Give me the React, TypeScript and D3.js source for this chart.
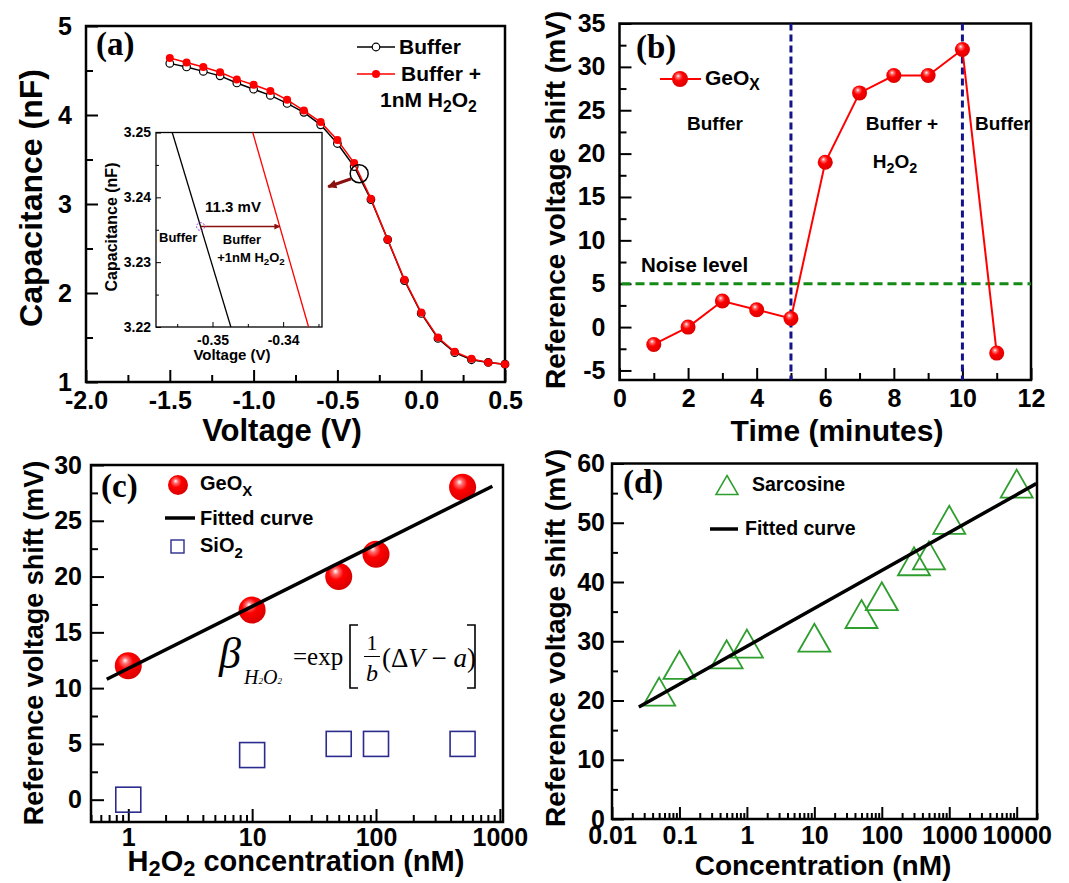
import React from 'react';
import * as d3 from 'd3';

const SANS = "'Liberation Sans', Arial, sans-serif";
const SERIF = "'Liberation Serif', 'Times New Roman', serif";

// (a) C-V curves
const cvVoltage = [-1.5, -1.4, -1.3, -1.2, -1.1, -1.0, -0.9, -0.8, -0.7, -0.6, -0.5, -0.4, -0.3, -0.2, -0.1, 0.0, 0.1, 0.2, 0.3, 0.4, 0.5];
const cvBuffer = [4.58, 4.54, 4.49, 4.44, 4.36, 4.29, 4.22, 4.13, 4.03, 3.89, 3.68, 3.42, 3.05, 2.6, 2.14, 1.77, 1.49, 1.33, 1.25, 1.22, 1.2];
const cvH2O2 = [4.64, 4.59, 4.54, 4.48, 4.4, 4.34, 4.27, 4.17, 4.05, 3.92, 3.72, 3.46, 3.06, 2.6, 2.15, 1.78, 1.5, 1.34, 1.26, 1.22, 1.2];
const zoomSpot = [-0.37, 3.34];

// (a) inset, zoom of the curves
const insetCap = [3.25, 3.22];
const insetVBuffer = [-0.3557, -0.3474];
const insetVH2O2 = [-0.3443, -0.3364];
const insetArrowCap = 3.2355;

// (b) time response
const timeMin = [1, 2, 3, 4, 5, 6, 7, 8, 9, 10, 11];
const shiftTime = [-2, 0, 3, 2, 1, 19, 27, 29, 29, 32, -3];
const switchTimes = [5, 10];
const noiseLevel = 5;

// (c) H2O2 concentration
const h2o2Conc = [1, 10, 50, 100, 500];
const h2o2GeOx = [12, 17, 20, 22, 28];
const h2o2SiO2 = [0, 4, 5, 5, 5];
const h2o2FitConc = [0.67, 870];
const h2o2FitShift = [10.8, 28.1];

// (d) sarcosine
const sarcConc = [0.05, 0.1, 0.5, 1, 10, 50, 100, 300, 500, 1000, 10000];
const sarcShift = [21.5, 26, 27.8, 29.6, 30.6, 34.6, 37.6, 43.5, 44.5, 50.5, 56.6];
const sarcFitConc = [0.025, 19500];
const sarcFitShift = [18.9, 56.6];

type Part = string | { t: string; sub?: boolean };

// text with subscripts; y is the visual centre of capitals
const addText = (g: any, x: number, y: number, parts: Part[], size: number, anchor = 'start', drop = 0.28) => {
  const t = g.append('text')
    .attr('x', x).attr('y', y + size * 0.36)
    .attr('font-size', size).attr('font-family', SANS).attr('font-weight', 'bold')
    .attr('text-anchor', anchor).attr('fill', '#000');
  let down = false;
  parts.forEach((p) => {
    const s = typeof p === 'string' ? { t: p } : p;
    const ts = t.append('tspan').text(s.t);
    if (s.sub) {
      ts.attr('font-size', size * 0.75);
      if (!down) { ts.attr('dy', size * drop); down = true; }
    } else if (down) {
      ts.attr('dy', -size * drop); down = false;
    }
  });
  return t;
};

const yTitle = (g: any, x: number, y: number, label: string, size: number) => {
  g.append('text')
    .attr('transform', `translate(${x},${y}) rotate(-90)`)
    .attr('y', size * 0.36)
    .attr('text-anchor', 'middle')
    .attr('font-family', SANS).attr('font-weight', 'bold').attr('font-size', size)
    .text(label);
};

const panelTag = (g: any, x: number, y: number, label: string) => {
  g.append('text').attr('x', x).attr('y', y)
    .attr('font-family', SERIF).attr('font-weight', 'bold').attr('font-size', 33)
    .text(label);
};

// ticks pointing inwards, on left and bottom only
const axes = (g: any, box: any, x: any, y: any, o: any) => {
  const style = (s: any, size: number) => {
    s.select('.domain').remove();
    s.attr('font-family', SANS).attr('font-size', size).attr('font-weight', 'bold');
    s.selectAll('line').attr('stroke', '#000').attr('stroke-width', o.tickW || 2);
    s.selectAll('text').attr('fill', '#000');
  };
  g.append('g').attr('transform', `translate(${box.l},0)`)
    .call(d3.axisLeft(y).tickValues(o.yMinor).tickSize(-o.minorLen).tickFormat(() => ''))
    .call((s: any) => style(s, o.font));
  g.append('g').attr('transform', `translate(${box.l},0)`)
    .call(d3.axisLeft(y).tickValues(o.yMajor).tickSize(-o.majorLen).tickPadding(o.yPad).tickFormat(o.yFmt))
    .call((s: any) => style(s, o.font));
  g.append('g').attr('transform', `translate(0,${box.b})`)
    .call(d3.axisBottom(x).tickValues(o.xMinor).tickSize(-o.minorLen).tickFormat(() => ''))
    .call((s: any) => style(s, o.font));
  g.append('g').attr('transform', `translate(0,${box.b})`)
    .call(d3.axisBottom(x).tickValues(o.xMajor).tickSize(-o.majorLen).tickPadding(o.xPad).tickFormat(o.xFmt))
    .call((s: any) => style(s, o.font));
  g.append('rect')
    .attr('x', box.l).attr('y', box.t).attr('width', box.r - box.l).attr('height', box.b - box.t)
    .attr('fill', 'none').attr('stroke', '#000').attr('stroke-width', o.frameW || 2.5);
};

const range = (a: number, b: number, s: number) => d3.range(a, b + s / 2, s).map((v) => +v.toFixed(4));
const logMinor = (sc: any) => sc.ticks().filter((v: number) => Math.abs(Math.log10(v) - Math.round(Math.log10(v))) > 1e-6);

class Figure extends React.Component {
  chRef = React.createRef<SVGSVGElement>();

  componentDidMount() {
    this.drawChart();
  }

  drawChart() {
    const svg = d3.select(this.chRef.current);
    svg.selectAll('*').remove();

    const defs = svg.append('defs');
    const grad = defs.append('radialGradient').attr('id', 'ball')
      .attr('cx', '0.42').attr('cy', '0.4').attr('r', '0.62').attr('fx', '0.38').attr('fy', '0.3');
    grad.append('stop').attr('offset', '0%').attr('stop-color', '#ffffff');
    grad.append('stop').attr('offset', '18%').attr('stop-color', '#ff7070');
    grad.append('stop').attr('offset', '45%').attr('stop-color', '#ff0000');
    grad.append('stop').attr('offset', '100%').attr('stop-color', '#d80000');
    defs.append('marker').attr('id', 'arrDark').attr('viewBox', '0 0 10 10').attr('refX', 9).attr('refY', 5)
      .attr('markerWidth', 10).attr('markerHeight', 9).attr('markerUnits', 'userSpaceOnUse').attr('orient', 'auto')
      .append('path').attr('d', 'M0,0 L10,5 L0,10 Z').attr('fill', '#8b1010');
    defs.append('marker').attr('id', 'arrInset').attr('viewBox', '0 0 10 10').attr('refX', 9).attr('refY', 5)
      .attr('markerWidth', 8).attr('markerHeight', 6).attr('markerUnits', 'userSpaceOnUse').attr('orient', 'auto')
      .append('path').attr('d', 'M0,0 L10,5 L0,10 Z').attr('fill', '#8b1010');

    // ---------- (a) ----------
    const A = { l: 86, r: 505, t: 26, b: 382 };
    const xA = d3.scaleLinear().domain([-2, 0.5]).range([A.l, A.r]);
    const yA = d3.scaleLinear().domain([1, 5]).range([A.b, A.t]);
    const gA = svg.append('g');
    axes(gA, A, xA, yA, {
      yMajor: [1, 2, 3, 4, 5], yMinor: range(1.5, 4.5, 1), xMajor: range(-2, 0.5, 0.5), xMinor: range(-1.75, 0.25, 0.5),
      majorLen: 12, minorLen: 7, font: 25, yPad: 14, xPad: 9,
      yFmt: (d: number) => String(d), xFmt: (d: number) => d.toFixed(1),
    });
    yTitle(gA, 30, 198, 'Capacitance (nF)', 32);
    addText(gA, 282, 430, ['Voltage (V)'], 31, 'middle');
    panelTag(gA, 96, 55, '(a)');

    const lineA = (vals: number[]) => d3.line<number>().x((d, i) => xA(cvVoltage[i])).y((d) => yA(d))(vals);
    gA.append('path').attr('d', lineA(cvBuffer)).attr('fill', 'none').attr('stroke', '#000').attr('stroke-width', 1.5);
    gA.selectAll(null).data(cvBuffer).enter().append('circle')
      .attr('cx', (d, i) => xA(cvVoltage[i])).attr('cy', (d) => yA(d)).attr('r', 3.8)
      .attr('fill', '#fff').attr('stroke', '#000').attr('stroke-width', 1.2);
    gA.append('path').attr('d', lineA(cvH2O2)).attr('fill', 'none').attr('stroke', '#ff0000').attr('stroke-width', 1.5);
    gA.selectAll(null).data(cvH2O2).enter().append('circle')
      .attr('cx', (d, i) => xA(cvVoltage[i])).attr('cy', (d) => yA(d)).attr('r', 4)
      .attr('fill', '#ff0000');

    // zoom circle and arrow
    const zx = xA(zoomSpot[0]);
    const zy = yA(zoomSpot[1]);
    gA.append('circle').attr('cx', zx).attr('cy', zy).attr('r', 9).attr('fill', 'none').attr('stroke', '#000').attr('stroke-width', 1.5);
    gA.append('line').attr('x1', zx - 8).attr('y1', zy + 5).attr('x2', zx - 31).attr('y2', zy + 13)
      .attr('stroke', '#8b1010').attr('stroke-width', 3).attr('marker-end', 'url(#arrDark)');

    // legend (a)
    gA.append('line').attr('x1', 357).attr('x2', 395).attr('y1', 47).attr('y2', 47).attr('stroke', '#000').attr('stroke-width', 1.5);
    gA.append('circle').attr('cx', 376).attr('cy', 47).attr('r', 3.8).attr('fill', '#fff').attr('stroke', '#000').attr('stroke-width', 1.2);
    addText(gA, 399, 46, ['Buffer'], 21);
    gA.append('line').attr('x1', 357).attr('x2', 395).attr('y1', 74).attr('y2', 74).attr('stroke', '#ff0000').attr('stroke-width', 1.5);
    gA.append('circle').attr('cx', 376).attr('cy', 74).attr('r', 4).attr('fill', '#ff0000');
    addText(gA, 401, 73, ['Buffer +'], 21);
    addText(gA, 380, 99, ['1nM H', { t: '2', sub: true }, 'O', { t: '2', sub: true }], 21);

    // inset
    const I = { l: 156, r: 322, t: 132.5, b: 327 };
    const xI = d3.scaleLinear().domain([-0.358, -0.3345]).range([I.l, I.r]);
    const yI = d3.scaleLinear().domain([3.22, 3.25]).range([I.b, I.t]);
    const gI = gA.append('g');
    gI.append('rect').attr('x', I.l).attr('y', I.t).attr('width', I.r - I.l).attr('height', I.b - I.t).attr('fill', '#fff');
    axes(gI, I, xI, yI, {
      yMajor: [3.22, 3.23, 3.24, 3.25], yMinor: [3.225, 3.235, 3.245], xMajor: [-0.35, -0.34], xMinor: [-0.355, -0.345, -0.335],
      majorLen: 5, minorLen: 3, font: 14, yPad: 5, xPad: 8, tickW: 1, frameW: 1.3,
      yFmt: (d: number) => d.toFixed(2), xFmt: (d: number) => d.toFixed(2),
    });
    yTitle(gI, 111, 227, 'Capacitance (nF)', 16);
    addText(gI, 232, 355, ['Voltage (V)'], 15, 'middle');
    const lineI = d3.line<number>().x((d) => xI(d)).y((d, i) => yI(insetCap[i]));
    gI.append('path').attr('d', lineI(insetVBuffer)).attr('stroke', '#000').attr('stroke-width', 1.3).attr('fill', 'none');
    gI.append('path').attr('d', lineI(insetVH2O2)).attr('stroke', '#ff0000').attr('stroke-width', 1.3).attr('fill', 'none');
    const frac = (insetArrowCap - insetCap[0]) / (insetCap[1] - insetCap[0]);
    const vB = insetVBuffer[0] + frac * (insetVBuffer[1] - insetVBuffer[0]);
    const vR = insetVH2O2[0] + frac * (insetVH2O2[1] - insetVH2O2[0]);
    gI.append('line').attr('x1', xI(vB)).attr('x2', xI(vR)).attr('y1', yI(insetArrowCap)).attr('y2', yI(insetArrowCap))
      .attr('stroke', '#8b1010').attr('stroke-width', 1.5).attr('marker-end', 'url(#arrInset)');
    gI.append('circle').attr('cx', xI(vB)).attr('cy', yI(insetArrowCap)).attr('r', 4)
      .attr('fill', 'none').attr('stroke', '#9b30c8').attr('stroke-width', 1).attr('stroke-dasharray', '2,1.5');
    addText(gI, 233, 207, ['11.3 mV'], 15, 'middle');
    addText(gI, 159, 237, ['Buffer'], 13);
    addText(gI, 242, 239, ['Buffer'], 13, 'middle');
    addText(gI, 251, 257, ['+1nM H', { t: '2', sub: true }, 'O', { t: '2', sub: true }], 13, 'middle');

    // ---------- (b) ----------
    const B = { l: 619.5, r: 1031, t: 23.5, b: 380 };
    const xB = d3.scaleLinear().domain([0, 12]).range([B.l, B.r]);
    const yB = d3.scaleLinear().domain([-6.1, 35]).range([B.b, B.t]);
    const gB = svg.append('g');
    axes(gB, B, xB, yB, {
      yMajor: range(-5, 35, 5), yMinor: range(-2.5, 32.5, 5), xMajor: range(0, 12, 2), xMinor: range(1, 11, 2),
      majorLen: 12, minorLen: 7, font: 25, yPad: 14, xPad: 9,
      yFmt: (d: number) => String(d), xFmt: (d: number) => String(d),
    });
    yTitle(gB, 555, 200, 'Reference voltage shift (mV)', 28);
    addText(gB, 837, 430, ['Time (minutes)'], 30, 'middle');
    panelTag(gB, 636, 58, '(b)');

    gB.append('line').attr('x1', B.l + 2).attr('x2', B.r).attr('y1', yB(noiseLevel)).attr('y2', yB(noiseLevel))
      .attr('stroke', '#138a13').attr('stroke-width', 3).attr('stroke-dasharray', '9,5');
    gB.selectAll(null).data(switchTimes).enter().append('line')
      .attr('x1', (d) => xB(d)).attr('x2', (d) => xB(d)).attr('y1', B.t).attr('y2', B.b)
      .attr('stroke', '#14148a').attr('stroke-width', 3).attr('stroke-dasharray', '7,4');

    const lineB = d3.line<number>().x((d, i) => xB(timeMin[i])).y((d) => yB(d));
    gB.append('path').attr('d', lineB(shiftTime)).attr('fill', 'none').attr('stroke', '#ff0000').attr('stroke-width', 2);
    gB.selectAll(null).data(shiftTime).enter().append('circle')
      .attr('cx', (d, i) => xB(timeMin[i])).attr('cy', (d) => yB(d)).attr('r', 7.5).attr('fill', 'url(#ball)');

    gB.append('line').attr('x1', 660).attr('x2', 701).attr('y1', 79).attr('y2', 79).attr('stroke', '#ff0000').attr('stroke-width', 2);
    gB.append('circle').attr('cx', 680).attr('cy', 79).attr('r', 8).attr('fill', 'url(#ball)');
    addText(gB, 705, 77, ['GeO', { t: 'X', sub: true }], 21);
    addText(gB, 715, 123, ['Buffer'], 19, 'middle');
    addText(gB, 902, 123, ['Buffer +'], 19, 'middle');
    addText(gB, 895, 161, ['H', { t: '2', sub: true }, 'O', { t: '2', sub: true }], 19, 'middle');
    addText(gB, 975, 123, ['Buffer'], 19);
    addText(gB, 641, 265, ['Noise level'], 20.5);

    // ---------- (c) ----------
    const C = { l: 91, r: 503, t: 465, b: 822 };
    const xC = d3.scaleLog().domain([0.5, 1060]).range([C.l, C.r]);
    const yC = d3.scaleLinear().domain([-2, 30]).range([C.b, C.t]);
    const gC = svg.append('g');
    axes(gC, C, xC, yC, {
      yMajor: range(0, 30, 5), yMinor: range(2.5, 27.5, 5), xMajor: [1, 10, 100, 1000], xMinor: logMinor(xC),
      majorLen: 13, minorLen: 7, font: 25, yPad: 9, xPad: 6,
      yFmt: (d: number) => String(d), xFmt: (d: number) => String(d),
    });
    yTitle(gC, 33, 643, 'Reference voltage shift (mV)', 27);
    addText(gC, 296, 861, ['H', { t: '2', sub: true }, 'O', { t: '2', sub: true }, ' concentration (nM)'], 29, 'middle', 0.16);
    panelTag(gC, 101, 497, '(c)');

    gC.selectAll(null).data(h2o2SiO2).enter().append('rect')
      .attr('x', (d, i) => xC(h2o2Conc[i]) - 12.5).attr('y', (d) => yC(d) - 12.5).attr('width', 25).attr('height', 25)
      .attr('fill', 'none').attr('stroke', '#2b2b8e').attr('stroke-width', 1.6);
    gC.selectAll(null).data(h2o2GeOx).enter().append('circle')
      .attr('cx', (d, i) => xC(h2o2Conc[i])).attr('cy', (d) => yC(d)).attr('r', 13.5).attr('fill', 'url(#ball)');
    const lineC = d3.line<number>().x((d, i) => xC(h2o2FitConc[i])).y((d) => yC(d));
    gC.append('path').attr('d', lineC(h2o2FitShift)).attr('stroke', '#000').attr('stroke-width', 3.5);

    gC.append('circle').attr('cx', 178).attr('cy', 485).attr('r', 10).attr('fill', 'url(#ball)');
    addText(gC, 200, 483, ['GeO', { t: 'X', sub: true }], 20);
    gC.append('line').attr('x1', 165).attr('x2', 195).attr('y1', 518).attr('y2', 518).attr('stroke', '#000').attr('stroke-width', 3.5);
    addText(gC, 200, 518, ['Fitted curve'], 20);
    gC.append('rect').attr('x', 171).attr('y', 540).attr('width', 13).attr('height', 13)
      .attr('fill', 'none').attr('stroke', '#2b2b8e').attr('stroke-width', 1.4);
    addText(gC, 200, 545, ['SiO', { t: '2', sub: true }], 20);

    // formula
    const f = gC.append('g').attr('fill', '#000').attr('font-family', SERIF);
    f.append('text').attr('x', 219).attr('y', 668).attr('font-size', 44).attr('font-style', 'italic').text('β');
    const sub = f.append('text').attr('x', 244).attr('y', 684).attr('font-size', 20).attr('font-style', 'italic');
    sub.append('tspan').text('H');
    sub.append('tspan').attr('font-size', 9).text('2');
    sub.append('tspan').text('O');
    sub.append('tspan').attr('font-size', 9).text('2');
    f.append('text').attr('x', 293).attr('y', 665).attr('font-size', 25).text('=exp');
    f.append('path').attr('d', 'M358,625 H350 V688 H358').attr('fill', 'none').attr('stroke', '#000').attr('stroke-width', 1.6);
    f.append('text').attr('x', 372).attr('y', 650).attr('font-size', 22).attr('text-anchor', 'middle').text('1');
    f.append('line').attr('x1', 364).attr('x2', 380).attr('y1', 656.5).attr('y2', 656.5).attr('stroke', '#000').attr('stroke-width', 1);
    f.append('text').attr('x', 372).attr('y', 681).attr('font-size', 24).attr('font-style', 'italic').attr('text-anchor', 'middle').text('b');
    const par = f.append('text').attr('x', 382).attr('y', 667).attr('font-size', 27);
    par.append('tspan').text('(Δ');
    par.append('tspan').attr('font-style', 'italic').text('V');
    par.append('tspan').text(' − ');
    par.append('tspan').attr('font-style', 'italic').text('a');
    par.append('tspan').text(')');
    f.append('path').attr('d', 'M467,625 H475 V688 H467').attr('fill', 'none').attr('stroke', '#000').attr('stroke-width', 1.6);

    // ---------- (d) ----------
    const D = { l: 612, r: 1037, t: 463.5, b: 819 };
    const xD = d3.scaleLog().domain([0.01, 20000]).range([D.l, D.r]);
    const yD = d3.scaleLinear().domain([0, 60]).range([D.b, D.t]);
    const gD = svg.append('g');
    axes(gD, D, xD, yD, {
      yMajor: range(0, 60, 10), yMinor: range(5, 55, 10), xMajor: [0.01, 0.1, 1, 10, 100, 1000, 10000], xMinor: logMinor(xD),
      majorLen: 12, minorLen: 6, font: 25, yPad: 7, xPad: 7,
      yFmt: (d: number) => String(d), xFmt: (d: number) => String(d),
    });
    yTitle(gD, 555, 638, 'Reference voltage shift (mV)', 28);
    addText(gD, 823, 865, ['Concentration (nM)'], 28, 'middle');
    panelTag(gD, 623, 493, '(d)');

    const tri = (cx: number, cy: number, w: number, h: number) =>
      `M${cx},${cy - h / 2} L${cx + w / 2},${cy + h / 2} L${cx - w / 2},${cy + h / 2} Z`;
    gD.selectAll(null).data(sarcShift).enter().append('path')
      .attr('d', (d, i) => tri(xD(sarcConc[i]), yD(d), 32, 28))
      .attr('fill', 'none').attr('stroke', '#2e9e2e').attr('stroke-width', 1.8);
    const lineD = d3.line<number>().x((d, i) => xD(sarcFitConc[i])).y((d) => yD(d));
    gD.append('path').attr('d', lineD(sarcFitShift)).attr('stroke', '#000').attr('stroke-width', 3.5);

    gD.append('path').attr('d', tri(727, 485, 22, 19)).attr('fill', 'none').attr('stroke', '#2e9e2e').attr('stroke-width', 1.5);
    addText(gD, 752, 484, ['Sarcosine'], 19.5);
    gD.append('line').attr('x1', 710).attr('x2', 738).attr('y1', 529).attr('y2', 529).attr('stroke', '#000').attr('stroke-width', 3.5);
    addText(gD, 745, 528, ['Fitted curve'], 19.5);
  }

  render() {
    return (
      <div style={{ position: 'absolute', left: 0, top: 0 }}>
        <svg ref={this.chRef} width={1069} height={883} style={{ display: 'block', background: '#fff' }} />
      </div>
    );
  }
}

export default function App() {
  return <Figure />;
}
